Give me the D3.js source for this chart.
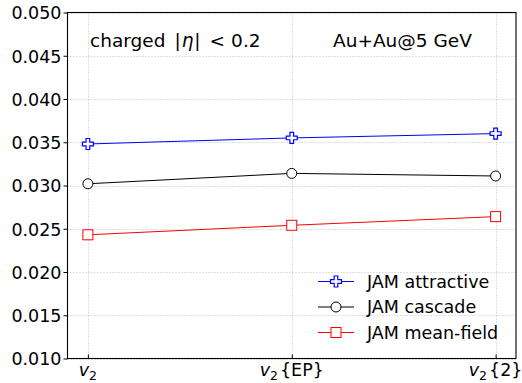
<!DOCTYPE html>
<html>
<head>
<meta charset="utf-8">
<script src="https://cdn.jsdelivr.net/npm/d3@7"></script>
<style>
  body { margin: 0; background: #fff; }
  svg text { font-family: "DejaVu Sans", sans-serif; fill: #000; }
</style>
</head>
<body>
<div id="chart"></div>
<script>
// Categories along x and the flow values per model
const categories = ['v2', 'v2{EP}', 'v2{2}'];
const attractive = [0.0348, 0.0355, 0.0360];
const cascade = [0.0302, 0.0314, 0.0311];
const meanField = [0.0243, 0.0254, 0.0264];
const yTicks = [0.010, 0.015, 0.020, 0.025, 0.030, 0.035, 0.040, 0.045, 0.050];

const series = [
  { name: 'JAM attractive', values: attractive, color: '#0000ff', marker: 'plus' },
  { name: 'JAM cascade', values: cascade, color: '#000000', marker: 'circle' },
  { name: 'JAM mean-field', values: meanField, color: '#ff0000', marker: 'square' },
];

const width = 522, height = 383;
const margin = { top: 12.5, right: 6, bottom: 24.5, left: 67.5 };

const svg = d3.select('#chart').append('svg')
  .attr('width', width)
  .attr('height', height);

const x = d3.scaleLinear()
  .domain([-0.1, 2.1])
  .range([margin.left, width - margin.right]);

const y = d3.scaleLinear()
  .domain([0.010, 0.050])
  .range([height - margin.bottom, margin.top]);

// Grid lines (dotted)
const grid = svg.append('g').attr('class', 'grid');
grid.selectAll('line.hgrid')
  .data(yTicks)
  .enter().append('line')
  .attr('x1', margin.left).attr('x2', width - margin.right)
  .attr('y1', d => Math.round(y(d)) + 0.5).attr('y2', d => Math.round(y(d)) + 0.5)
  .attr('stroke', '#b0b0b0').attr('stroke-width', 0.8)
  .attr('stroke-dasharray', '1,2');
grid.selectAll('line.vgrid')
  .data(categories)
  .enter().append('line')
  .attr('x1', (d, i) => Math.round(x(i)) + 0.5).attr('x2', (d, i) => Math.round(x(i)) + 0.5)
  .attr('y1', margin.top).attr('y2', height - margin.bottom)
  .attr('stroke', '#b0b0b0').attr('stroke-width', 0.8)
  .attr('stroke-dasharray', '1,2');

// Y axis, small outward ticks
const yAxis = svg.append('g')
  .attr('transform', 'translate(' + margin.left + ',0)')
  .call(d3.axisLeft(y).tickValues(yTicks).tickFormat(d3.format('.3f')).tickSize(4).tickPadding(2));
yAxis.select('.domain').remove();
yAxis.selectAll('text').style('font-size', '17.5px').attr('dy', '0.36em');

// X axis, inward ticks with subscript labels
const xAxis = svg.append('g')
  .attr('transform', 'translate(0,' + (height - margin.bottom) + ')')
  .call(d3.axisBottom(x).tickValues([0, 1, 2]).tickSize(-4).tickFormat(''));
xAxis.select('.domain').remove();

const labelY = height - margin.bottom + 17;
categories.forEach(function (c, i) {
  const suffix = c.slice(2);
  const t = svg.append('text')
    .attr('x', x(i))
    .attr('y', labelY)
    .attr('text-anchor', 'middle')
    .style('font-size', '17.5px');
  t.append('tspan').text('v').style('font-style', 'italic');
  t.append('tspan').text('2').attr('dy', 4).style('font-size', '12.5px');
  if (suffix) {
    t.append('tspan').text(suffix).attr('dy', -4).attr('dx', 2);
  }
});

// Frame
svg.append('rect')
  .attr('x', margin.left).attr('y', margin.top)
  .attr('width', width - margin.left - margin.right)
  .attr('height', height - margin.top - margin.bottom)
  .attr('fill', 'none').attr('stroke', '#000').attr('stroke-width', 1.1);

// Marker shapes
function plusPath(s) {
  const a = s / 2, b = s / 6;
  return 'M' + -b + ',' + -a + 'H' + b + 'V' + -b + 'H' + a + 'V' + b + 'H' + b +
    'V' + a + 'H' + -b + 'V' + b + 'H' + -a + 'V' + -b + 'H' + -b + 'Z';
}
function drawMarker(g, type, cx, cy, color) {
  if (type === 'plus') {
    g.append('path').attr('d', plusPath(11))
      .attr('transform', 'translate(' + cx + ',' + cy + ')')
      .attr('fill', '#fff').attr('stroke', color).attr('stroke-width', 1.2);
  } else if (type === 'circle') {
    g.append('circle').attr('cx', cx).attr('cy', cy).attr('r', 5)
      .attr('fill', '#fff').attr('stroke', color).attr('stroke-width', 1);
  } else {
    g.append('rect').attr('x', cx - 5).attr('y', cy - 5).attr('width', 10).attr('height', 10)
      .attr('fill', '#fff').attr('stroke', color).attr('stroke-width', 1);
  }
}

const line = d3.line()
  .x((d, i) => x(i))
  .y(d => y(d));

series.forEach(function (s) {
  const g = svg.append('g');
  g.append('path')
    .datum(s.values)
    .attr('d', line)
    .attr('fill', 'none')
    .attr('stroke', s.color)
    .attr('stroke-width', 1);
  s.values.forEach(function (v, i) {
    drawMarker(g, s.marker, x(i), y(v), s.color);
  });
});

// Annotations (mathtext-like spacing)
svg.append('text').attr('x', 90).attr('y', 47).style('font-size', '18.5px')
  .html('charged<tspan dx="9">|</tspan><tspan font-style="italic" dx="1">\u03b7</tspan><tspan dx="1">|</tspan>' +
    '<tspan dx="9">&lt;</tspan><tspan dx="6">0.2</tspan>');
svg.append('text').attr('x', 333).attr('y', 47).style('font-size', '18.5px')
  .text('Au+Au@5 GeV');

// Legend
const legend = svg.append('g');
series.forEach(function (s, i) {
  const ly = 281.5 + i * 25.5;
  legend.append('line')
    .attr('x1', 318).attr('x2', 354).attr('y1', ly).attr('y2', ly)
    .attr('stroke', s.color).attr('stroke-width', 1);
  drawMarker(legend, s.marker, 336, ly, s.color);
  legend.append('text')
    .attr('x', 367).attr('y', ly).attr('dy', '0.36em')
    .style('font-size', '17.5px')
    .text(s.name);
});
</script>
</body>
</html>
